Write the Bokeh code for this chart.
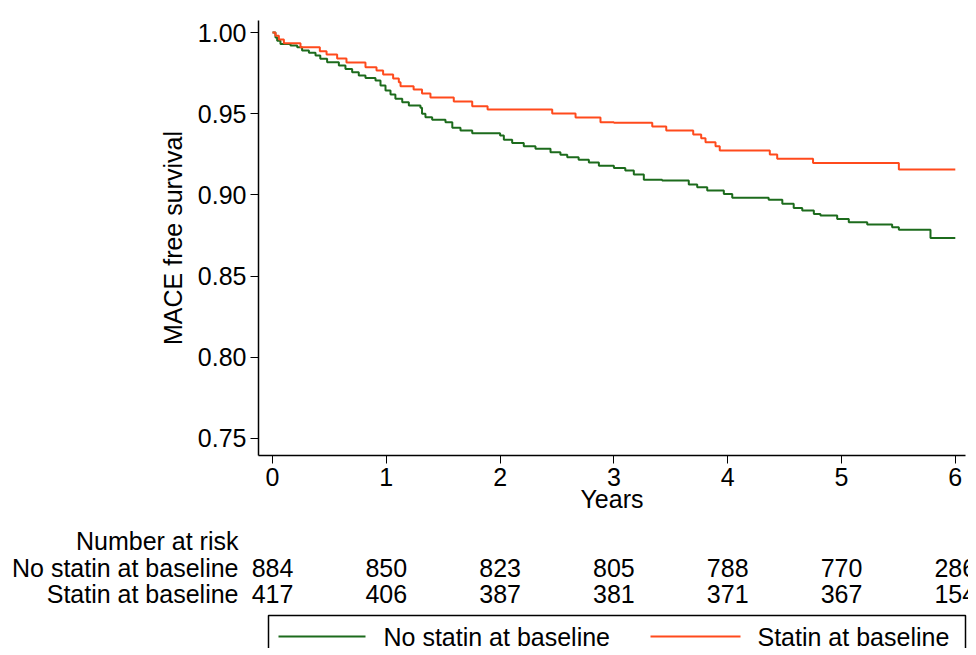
from bokeh.plotting import figure
from bokeh.models import Range1d, FixedTicker, NumeralTickFormatter
from bokeh.core.properties import value
from bokeh.embed import file_html
from bokeh.resources import INLINE

FONT = "Liberation Sans"

# Kaplan-Meier steps
nostatin_t = [0, 0.026, 0.041, 0.07, 0.158, 0.217, 0.26, 0.32, 0.378, 0.42, 0.48, 0.583, 0.641, 0.70,
              0.758, 0.817, 0.905, 0.949, 0.993, 1.037, 1.08, 1.14, 1.198, 1.30, 1.314, 1.344, 1.403,
              1.52, 1.58, 1.652, 1.755, 2.0, 2.033, 2.106, 2.208, 2.311, 2.443, 2.53, 2.59, 2.69, 2.78,
              2.868, 3.0, 3.10, 3.175, 3.263, 3.424, 3.658, 3.732, 3.82, 3.966, 4.04, 4.36, 4.48, 4.58,
              4.655, 4.757, 4.815, 4.962, 5.064, 5.226, 5.445, 5.504, 5.782, 6.0]
nostatin_s = [1.0, 0.997, 0.995, 0.993, 0.992, 0.991, 0.989, 0.9875, 0.9858, 0.9838, 0.9817, 0.9797,
              0.9776, 0.9756, 0.9735, 0.972, 0.9704, 0.9674, 0.9643, 0.9618, 0.9592, 0.957, 0.955,
              0.9536, 0.950, 0.9478, 0.9462, 0.9448, 0.9413, 0.9396, 0.938, 0.9366, 0.934, 0.932, 0.930,
              0.9284, 0.9263, 0.9247, 0.9232, 0.9216, 0.920, 0.918, 0.9166, 0.915, 0.9125, 0.9094,
              0.9088, 0.9064, 0.9047, 0.9027, 0.9006, 0.8982, 0.897, 0.8945, 0.892, 0.8904, 0.8883,
              0.8873, 0.8852, 0.8832, 0.8817, 0.8801, 0.8785, 0.8735, 0.8735]

statin_t = [0, 0.026, 0.056, 0.10, 0.246, 0.416, 0.475, 0.568, 0.65, 0.817, 0.914, 0.972, 1.06, 1.11,
            1.125, 1.24, 1.314, 1.388, 1.593, 1.755, 1.89, 2.458, 2.663, 2.882, 3.0, 3.337, 3.46,
            3.697, 3.767, 3.805, 3.893, 3.93, 4.37, 4.435, 4.75, 5.504, 6.0]
statin_s = [1.0, 0.998, 0.9957, 0.9934, 0.991, 0.9885, 0.9864, 0.984, 0.9815, 0.9786, 0.9766, 0.9741,
            0.9717, 0.9694, 0.9669, 0.9649, 0.9624, 0.960, 0.9575, 0.9546, 0.9526, 0.9501, 0.9477,
            0.9448, 0.9444, 0.9421, 0.9396, 0.9372, 0.9349, 0.9324, 0.930, 0.9273, 0.9249, 0.9222,
            0.9197, 0.9156, 0.9156]

risk_times = [0, 1, 2, 3, 4, 5, 6]
risk_nostatin = [884, 850, 823, 805, 788, 770, 286]
risk_statin = [417, 406, 387, 381, 371, 367, 154]

GREEN = "#1c6b1c"
RED = "#ff4a1c"

# scale: x 0 at 272px, 113.8 px per year
x0_px, px_per_yr = 272, 113.8
def px(v):
    return (v - x0_px) / px_per_yr

p = figure(width=968, height=525, output_backend="svg", toolbar_location=None,
           x_range=Range1d(px(258), px(965)),
           y_range=Range1d(0.7395, 1.0074),
           min_border_left=258, min_border_right=3, min_border_top=20, min_border_bottom=70)
p.outline_line_color = None
p.xgrid.visible = False
p.ygrid.visible = False
p.step(nostatin_t, nostatin_s, mode="after", line_color=GREEN, line_width=2)
p.step(statin_t, statin_s, mode="after", line_color=RED, line_width=2)

p.xaxis.ticker = FixedTicker(ticks=risk_times)
p.yaxis.ticker = FixedTicker(ticks=[0.75, 0.80, 0.85, 0.90, 0.95, 1.00])
p.yaxis.formatter = NumeralTickFormatter(format="0.00")
p.xaxis.axis_label = "Years"
p.yaxis.axis_label = "MACE free survival"
for ax in (p.xaxis[0], p.yaxis[0]):
    ax.major_label_text_font = FONT
    ax.major_label_text_font_size = "25px"
    ax.major_label_text_color = "black"
    ax.axis_label_text_font = FONT
    ax.axis_label_text_font_size = "25px"
    ax.axis_label_text_font_style = "normal"
    ax.axis_label_text_color = "black"
    ax.axis_line_color = "black"
    ax.axis_line_width = 1.5
    ax.major_tick_line_color = "black"
    ax.major_tick_out = 8
    ax.major_tick_in = 0
    ax.minor_tick_line_color = None
    ax.major_label_standoff = 4
p.xaxis.axis_label_standoff = -4
p.yaxis.axis_label_standoff = 8

# risk table + legend (separate root, so no frame alignment with p); starts at page y 525
top = 525
q = figure(width=968, height=123, output_backend="svg", toolbar_location=None,
           x_range=Range1d(px(0), px(968)),
           y_range=Range1d(123, 0), min_border=0)
q.outline_line_color = None
q.axis.visible = False
q.grid.visible = False
tstyle = dict(text_font=value(FONT), text_font_size="25px", text_color="black", text_baseline="middle")
q.text(x=[px(238)] * 3, y=[540 - top, 567 - top, 593 - top],
       text=["Number at risk", "No statin at baseline", "Statin at baseline"],
       text_align="right", **tstyle)
q.text(x=risk_times, y=[567 - top] * 7, text=[str(v) for v in risk_nostatin], text_align="center", **tstyle)
q.text(x=risk_times, y=[593 - top] * 7, text=[str(v) for v in risk_statin], text_align="center", **tstyle)

q.quad(left=px(268), right=px(965), top=615 - top, bottom=660 - top,
       fill_color=None, line_color="black", line_width=1.5)
q.line([px(278), px(365)], [636 - top] * 2, line_color=GREEN, line_width=2)
q.line([px(650), px(740)], [636 - top] * 2, line_color=RED, line_width=2)
q.text(x=[px(383), px(757)], y=[636 - top] * 2,
       text=["No statin at baseline", "Statin at baseline"], text_align="left", **tstyle)

open("out.html", "w").write(file_html([p, q], INLINE))
